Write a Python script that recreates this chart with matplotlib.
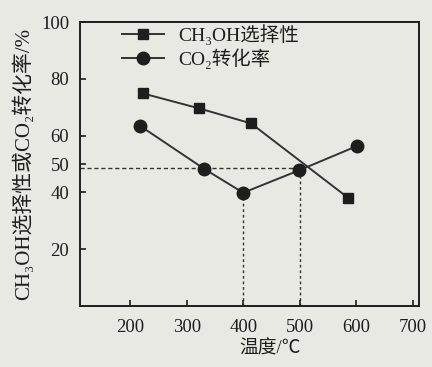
import matplotlib
matplotlib.use("Agg")
import matplotlib.pyplot as plt

plt.rcParams['font.family'] = ['Liberation Serif', 'Noto Sans CJK SC', 'DejaVu Sans']

# Data
ch3oh_temp = [222, 322, 414, 585]
ch3oh_sel = [74.9, 69.6, 64.3, 38.2]
co2_temp = [218, 331, 400, 499, 602]
co2_conv = [63.4, 48.3, 39.9, 47.8, 56.4]
x_ticks = [200, 300, 400, 500, 600, 700]
y_ticks = [20, 40, 50, 60, 80, 100]
ref_y = 48.5
ref_x = [400, 500]

bg = '#e9e9e4'
ink = '#1e1e1e'

fig = plt.figure(figsize=(4.32, 3.67), dpi=100, facecolor=bg)
ax = fig.add_axes([0.186, 0.166, 0.784, 0.774], facecolor=bg)

ax.plot(ch3oh_temp, ch3oh_sel, color='#333333', lw=1.4, marker='s', ms=6.5,
        mfc=ink, mec=ink, label='CH₃OH选择性')
ax.plot(co2_temp, co2_conv, color='#333333', lw=1.4, marker='o', ms=9,
        mfc=ink, mec=ink, label='CO₂转化率')

# reference dashed lines
ax.plot([112, 500], [ref_y, ref_y], ls=(0, (3, 2)), color='#333333', lw=1.0, zorder=1)
ax.plot([ref_x[0], ref_x[0]], [0, co2_conv[2]], ls=(0, (2, 2)), color='#333333', lw=1.0, zorder=1)
ax.plot([ref_x[1], ref_x[1]], [0, ref_y], ls=(0, (2, 2)), color='#333333', lw=1.0, zorder=1)

ax.set_xlim(112, 711)
ax.set_ylim(0, 100)
ax.set_xticks(x_ticks)
ax.set_yticks(y_ticks)
ax.tick_params(direction='in', length=4, width=1.2, labelsize=13.5, colors=ink, pad=8)
ax.tick_params(axis='x', pad=9)
for s in ax.spines.values():
    s.set_linewidth(1.4)
    s.set_color(ink)

ax.set_xlabel('温度/℃', fontsize=13.5, color=ink, labelpad=2)
ax.xaxis.set_label_coords(0.56, -0.12)
ax.set_ylabel('CH₃OH选择性或CO₂转化率/%', fontsize=15, color=ink, labelpad=5)

leg = ax.legend(loc='upper left', bbox_to_anchor=(0.07, 1.055), frameon=False,
                fontsize=14, handlelength=2.2, handletextpad=0.7, labelspacing=0.2)
for t in leg.get_texts():
    t.set_color(ink)

fig.savefig('out.png', dpi=100, facecolor=bg)
